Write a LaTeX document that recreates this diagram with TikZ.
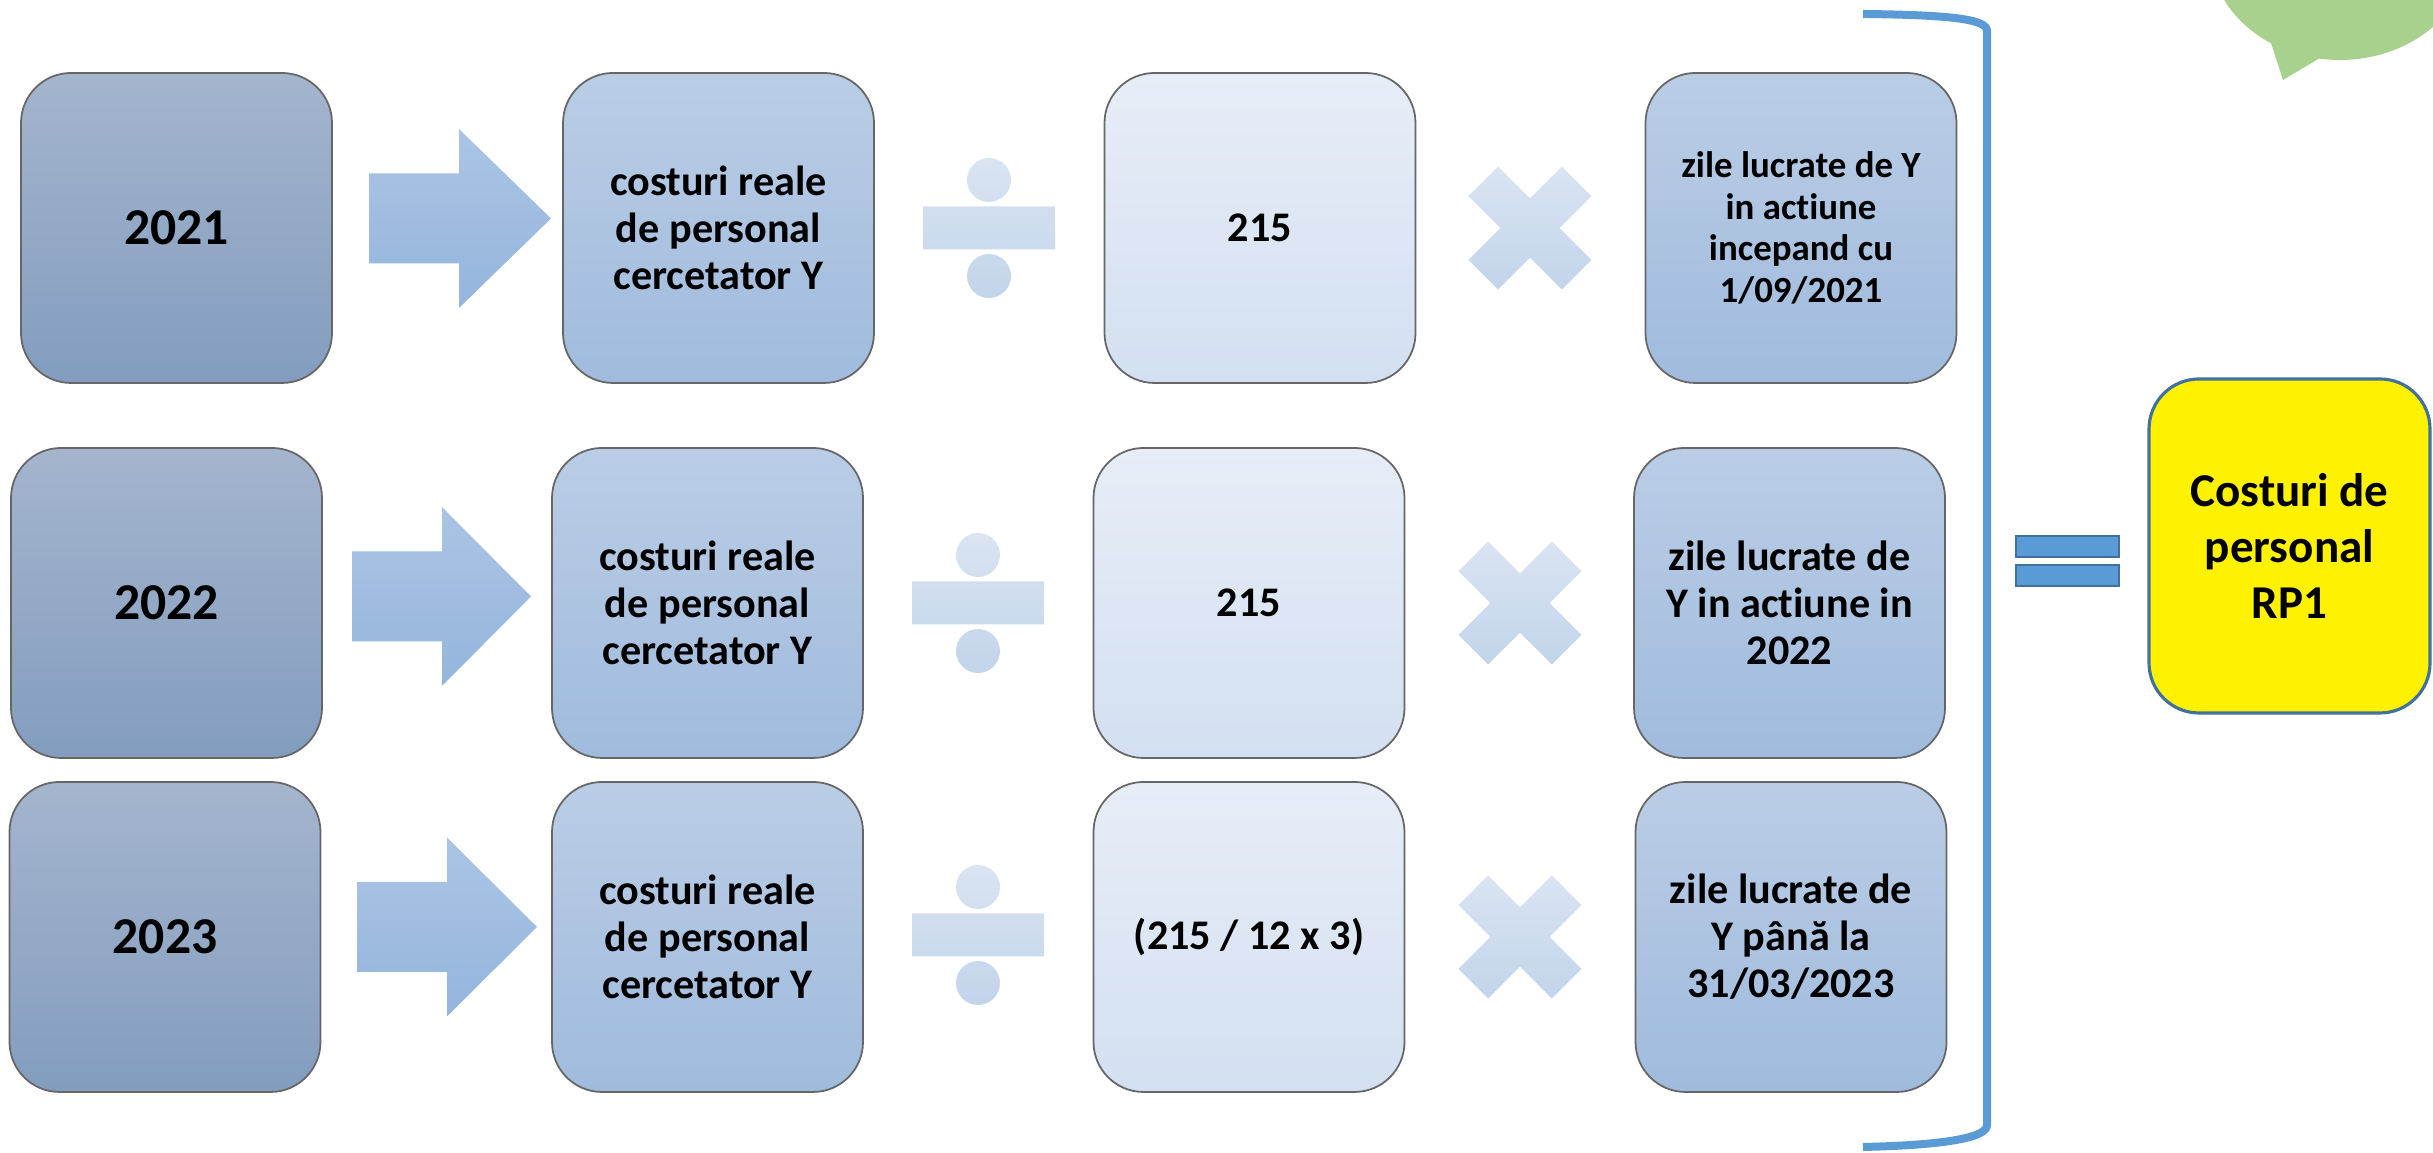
\documentclass[tikz,border=0pt]{standalone}
\usepackage{fontspec}
\setmainfont{Carlito}[Ligatures=NoCommon]
\usetikzlibrary{shapes.geometric}

\definecolor{yeartop}{RGB}{164,181,205}
\definecolor{yearbot}{RGB}{131,157,191}
\definecolor{midtop}{RGB}{186,205,229}
\definecolor{midbot}{RGB}{160,187,221}
\definecolor{lighttop}{RGB}{231,237,247}
\definecolor{lightbot}{RGB}{211,224,241}
\definecolor{arrtop}{RGB}{171,196,228}
\definecolor{arrbot}{RGB}{148,181,221}
\definecolor{optop}{RGB}{218,228,242}
\definecolor{opbot}{RGB}{194,212,235}
\definecolor{bracketblue}{RGB}{91,155,213}
\definecolor{edgeblue}{RGB}{65,113,156}
\definecolor{bubblegreen}{RGB}{169,209,142}

\tikzset{
  box/.style={draw=black!60, line width=0.5pt, rounded corners=0.5cm,
    minimum width=3.11cm, minimum height=3.1cm, inner sep=0pt,
    align=center, font=\bfseries\fontsize{12}{13.4}\selectfont},
  yearbox/.style={box, top color=yeartop, bottom color=yearbot,
    font=\bfseries\fontsize{14.7}{17}\selectfont},
  midbox/.style={box, top color=midtop, bottom color=midbot},
  lightbox/.style={box, top color=lighttop, bottom color=lightbot},
  blockarrow/.style={top color=arrtop, bottom color=arrbot},
  opsign/.style={top color=optop, bottom color=opbot}
}

\begin{document}
\begin{tikzpicture}
   \useasboundingbox (0,0) rectangle (24.33,11.53);
   \clip (0,0) rectangle (24.33,11.53);

   % speech bubble, cut by the page edge
   \fill[bubblegreen] (23.40,12.03) ellipse (1.30 and 1.10);
   \fill[bubblegreen] (22.70,11.13) -- (22.83,10.73) -- (23.25,10.98) -- cycle;

   % row 2021
   \node[yearbox] (y1) at (1.765,9.25) {2021};
   \node[midbox] (c1) at (7.185,9.25) {costuri reale\\de personal\\cercetator Y};
   \node[lightbox] (d1) at (12.60,9.25) {215};
   \node[midbox, font=\bfseries\fontsize{10.5}{11.9}\selectfont] (z1) at (18.01,9.25)
      {zile lucrate de Y\\in actiune\\incepand cu\\1/09/2021};

   % row 2022
   \node[yearbox] (y2) at (1.665,5.50) {2022};
   \node[midbox] (c2) at (7.075,5.50) {costuri reale\\de personal\\cercetator Y};
   \node[lightbox] (d2) at (12.49,5.50) {215};
   \node[midbox] (z2) at (17.895,5.50) {zile lucrate de\\Y in actiune in\\2022};

   % row 2023
   \node[yearbox] (y3) at (1.65,2.16) {2023};
   \node[midbox] (c3) at (7.075,2.16) {costuri reale\\de personal\\cercetator Y};
   \node[lightbox] (d3) at (12.49,2.16) {(215 / 12 x 3)};
   \node[midbox] (z3) at (17.91,2.16) {zile lucrate de\\Y până la\\31/03/2023};

   % block arrows
   \foreach \xa/\xh/\xt/\cy in {3.69/4.59/5.51/9.345, 3.52/4.42/5.31/5.565, 3.57/4.47/5.37/2.26}
      \path[blockarrow] (\xa,\cy+0.45) -- (\xh,\cy+0.45) -- (\xh,\cy+0.895) -- (\xt,\cy)
         -- (\xh,\cy-0.895) -- (\xh,\cy-0.45) -- (\xa,\cy-0.45) -- cycle;

   % division signs
   \foreach \cx/\cy in {9.89/9.25, 9.78/5.50, 9.78/2.18}
      \path[opsign] (\cx,\cy+0.48) circle (0.22)
         (\cx-0.66,\cy-0.215) rectangle (\cx+0.66,\cy+0.215)
         (\cx,\cy-0.48) circle (0.22);

   % multiplication signs
   \foreach \cx/\cy in {15.30/9.25, 15.20/5.50, 15.20/2.16}
      \path[opsign] (\cx,\cy+0.297) -- ++(0.319,0.318) -- (\cx+0.615,\cy+0.319)
         -- (\cx+0.297,\cy) -- (\cx+0.615,\cy-0.319) -- (\cx+0.319,\cy-0.615)
         -- (\cx,\cy-0.297) -- (\cx-0.319,\cy-0.615) -- (\cx-0.615,\cy-0.319)
         -- (\cx-0.297,\cy) -- (\cx-0.615,\cy+0.319) -- (\cx-0.319,\cy+0.615) -- cycle;

   % bracket round the three rows
   \draw[bracketblue, line width=0.08cm]
      (18.63,11.39) .. controls (19.50,11.38) and (19.87,11.34) .. (19.87,11.22)
      -- (19.87,0.28) .. controls (19.87,0.16) and (19.50,0.08) .. (18.63,0.06);

   % equals sign
   \draw[edgeblue, fill=bracketblue, line width=0.6pt] (20.16,5.96) rectangle (21.19,6.17);
   \draw[edgeblue, fill=bracketblue, line width=0.6pt] (20.16,5.67) rectangle (21.19,5.88);

   \node[box, draw=edgeblue, line width=0.9pt, fill=yellow, minimum width=2.81cm,
      minimum height=3.34cm, font=\bfseries\fontsize{13.4}{16}\selectfont] (res)
      at (22.895,6.07) {Costuri de\\personal\\RP1};
\end{tikzpicture}
\end{document}
